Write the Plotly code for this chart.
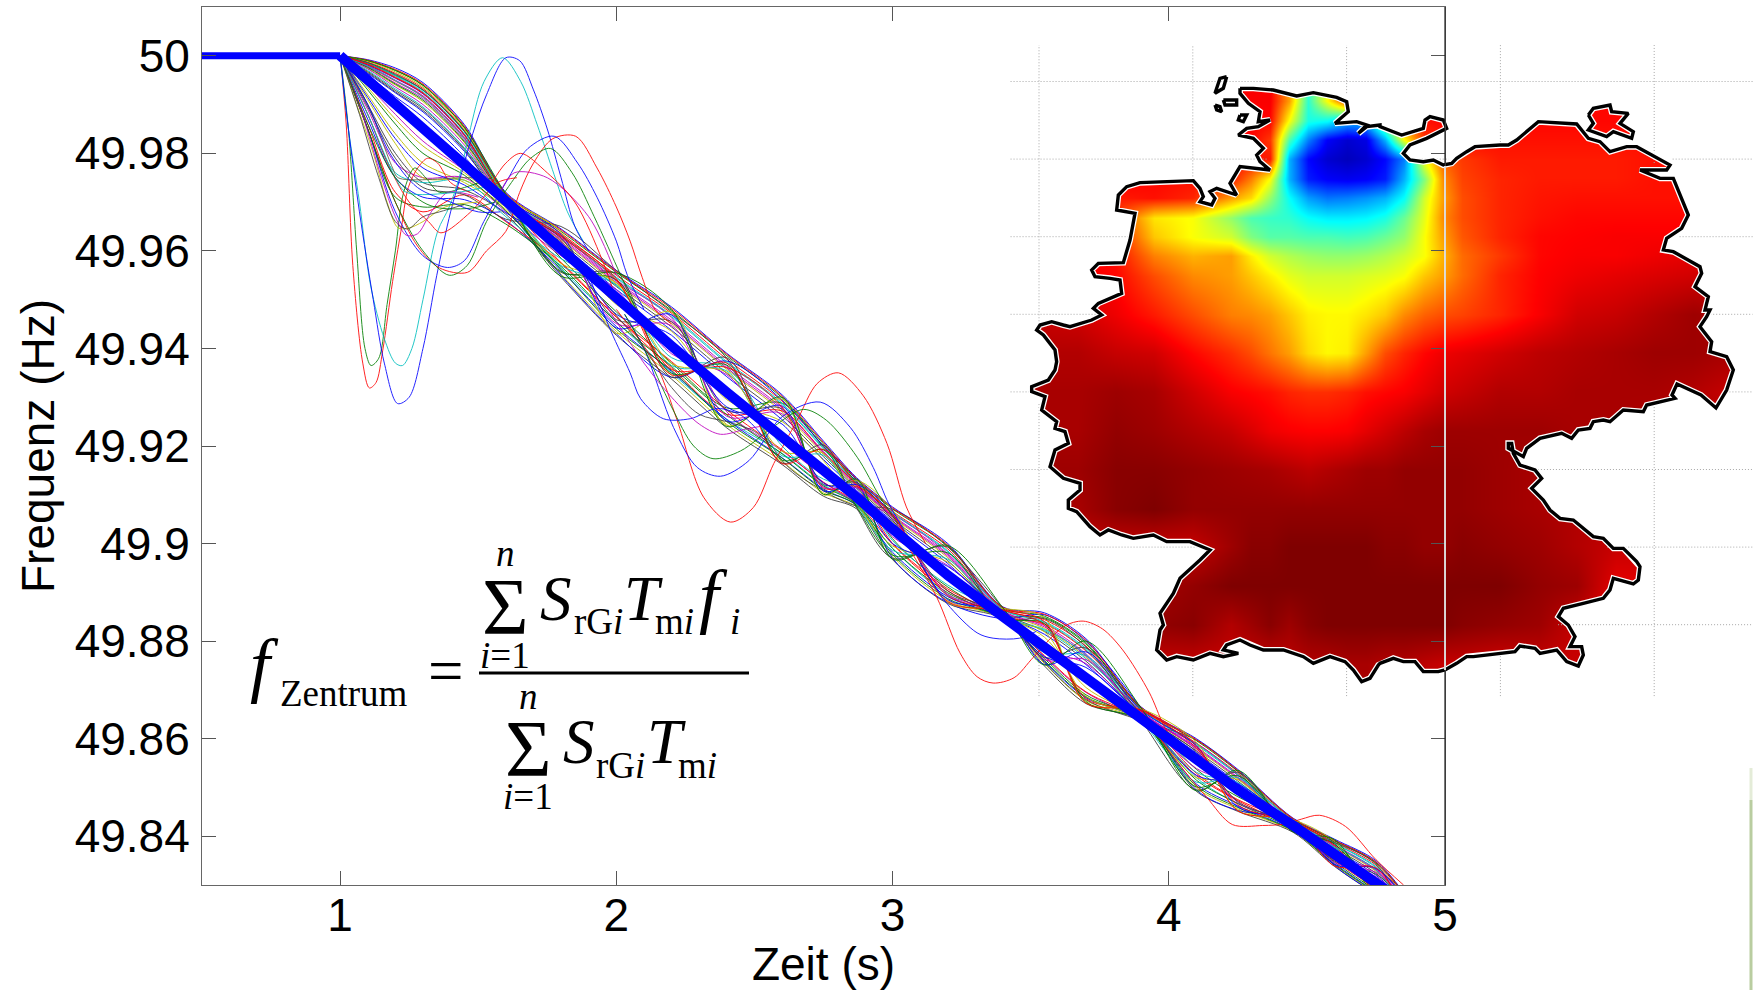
import plotly.graph_objects as go

W, H = 1760, 990
# ---------------- main chart data ----------------
X_TICKS = [1, 2, 3, 4, 5]
Y_TICKS = [50, 49.98, 49.96, 49.94, 49.92, 49.9, 49.88, 49.86, 49.84]
Y_LABELS = ["50", "49.98", "49.96", "49.94", "49.92", "49.9", "49.88", "49.86", "49.84"]
X_TITLE = "Zeit (s)"
Y_TITLE = "Frequenz (Hz)"

TIME = [1.0,1.1,1.2,1.3,1.45,1.6,1.8,2.0,2.2,2.4,2.6,2.75,2.87,3.0,3.2,3.4,3.55,3.7,3.9,4.1,4.25,4.45,4.6,4.75,4.85]
CENTER = [50,49.995,49.99,49.985,49.9775,49.97,49.96,49.95,49.9405,49.931,49.922,49.915,49.9095,49.903,49.8935,49.885,49.8788,49.872,49.8642,49.8555,49.8495,49.8422,49.8362,49.8305,49.8265]
FLAT_T = [0.5, 1.0]
FLAT_F = [50, 50]

# generator curves read as deviation from the centre line, in mHz
B01=[0,4.2,7.5,9.5,8.4,2,4.5,6,8,8,8.5,6,4,4.5,6.5,2,7,8.5,2.3,4.5,4.2,1.5,3.2,4.5,2]
B02=[0,4,7,9,7.8,1.7,4,5.6,7.3,7.5,7.9,5.4,3.6,4.1,6,1.8,6.3,7.7,2.1,4.1,3.8,1.3,2.9,4,1.7]
B03=[0,3.7,6.4,8.3,7.2,1.4,3.6,5,6.7,6.8,7.2,5,3.2,3.6,5.4,1.6,5.6,7,1.9,3.6,3.4,1.1,2.6,3.6,1.5]
B04=[0,3.4,5.8,7.6,6.5,1.1,3.1,4.4,6,6,6.5,4.4,2.8,3.2,4.8,1.4,5,6.2,1.7,3.2,3,.9,2.3,3.1,1.3]
B05=[0,3,5,6.8,5.8,.7,2.7,3.8,5.3,5.4,5.8,3.9,2.5,2.8,4.2,1.2,4.4,5.4,1.4,2.8,2.6,.7,2,2.7,1.1]
B06=[0,2.4,4,5.6,4.7,.2,2.2,3.2,4.6,4.7,5,3.3,2.1,2.4,3.6,1,3.8,4.7,1.2,2.4,2.2,.5,1.7,2.3,.9]
B07=[0,1.8,2.9,4.2,3.5,0,1.8,2.7,3.9,3.9,4.2,2.8,1.8,2,3,.8,3.2,3.9,1,2,1.8,.3,1.4,1.9,.7]
B08=[0,1.4,2.4,3.5,2.9,-.3,1.4,2.1,3.2,3.2,3.4,2.2,1.4,1.6,2.4,.6,2.6,3.2,.8,1.6,1.4,.1,1.1,1.5,.5]
B09=[0,3.5,6,8,7,1.1,-1.5,-2.5,-3.5,-3.2,6.8,4.8,3,-2,-2.4,.2,6,7.4,1.8,-1.8,-1.4,1,2.6,-.8,-.5]
B10=[0,2.8,4.8,6.6,5.6,.6,-2.5,-3.5,-4.5,-4.5,5.2,3.6,2.4,-3,-3.2,0,4.7,6,1.5,-2.6,-2,.7,2.2,-1.2,-.8]
B11=[0,2,3.2,4.5,3.6,.1,-3.5,-4.5,-5.5,-5.5,-3.5,-3,-1.2,-4,-4,-.2,3.4,4.4,1.1,-3.5,-2.8,.4,1.6,-1.6,-1]
B12=[0,-1,-2,-2.5,-1,-.5,3,4,5.8,-4,-3,-2.4,-1,3,4.4,1,-2,-2.5,-.2,3.5,3,-.4,-1,2.8,1.2]
B13=[0,-3,-6,-7,-3.5,-1.5,-4.8,-6.5,-6,-6.6,-5.2,-4.6,-2,-5.6,-5.2,-.4,-3.4,-4.2,-.5,-5.6,-3.9,-1.2,-2.1,-2.2,-1.5]
B14=[0,-5,-10,-11,-5,-2.5,-5.4,-7.3,-6.8,-7.3,-5.8,-5.3,-2.4,-6.3,-5.8,-.5,-3.9,-4.8,-.6,-6.3,-4.4,-1.4,-2.4,-2.4,-1.9]
B15=[0,-8,-15,-14,-7,-3.8,-4,-5.5,-5.2,-5.6,-4.4,-3.8,-1.7,-4.8,-4.4,-.3,-3,-3.6,-.4,-4.8,-3.3,-1,-1.8,-1.9,-1.3]
B16=[0,-10,-19,-16,-8,-4.5,-3.2,-4.6,-4.2,-4.6,-3.6,-3.2,-1.4,-4,-3.6,-.2,-2.4,-3,-.3,-4,-2.8,-.8,-1.5,-1.6,-1.1]
B17=[0,-9,-18,-17,-6,-4,-2.4,-3.6,-3.2,-3.6,-2.8,-2.5,-1,-3.1,-2.8,-.1,-1.8,-2.4,-.2,-3.1,-2.2,-.6,-1.2,-1.2,-.8]
B18=[0,-7,-14,-11,-3,-3,-1.6,3,-2.4,5,-2,-1.8,2,-2.4,-2,.6,-1.2,5,.6,-2.4,1.5,-.4,-.9,-.9,-.6]
B19=[0,-6,-12,-10,-2.5,-2,-1,2,-1.6,3.6,-1.2,-1,1.2,-1.6,2,.4,-.6,3.4,.4,-1.6,1,-.2,-.6,1.2,.4]
B20=[0,-4,-8,-10,-3,-1,2,-1,3,-1.5,3,2,-1.5,1.5,-1,.3,2,-1.5,.2,1.3,-1,.2,1,-.4,.2]
B21=[0,-5.5,-11,-12,-6,-3.5,5,6,7,7,-5,-4.2,-1.8,4,5.8,1.7,-3.2,-4,-.5,4.2,3.8,-1.1,2.8,4.2,1.9]
B22=[0,1,1.6,2.4,1.8,-1,-5,-7,-6.4,6.4,7.4,5,3.4,-6,-5.6,-.4,6.6,8,2,-6,-4.2,1.2,-2.2,-2.3,-1.6]
B23=[0,-2,-4,-5,-2,-1.8,-3.8,-6,-5,-6,-4.5,-4,-1.6,-5.2,-4.8,-.3,-2.8,-3.4,-.4,-5.2,-3.6,-1.1,-2,-2,-1.4]
B24=[0,4.1,7.2,9.2,8.1,1.8,4.3,5.8,7.7,7.8,8.2,5.7,3.8,4.3,6.2,1.9,6.7,8.2,2.2,4.3,4,1.4,3,4.2,1.8]
B25=[0,3.5,6,7.9,6.9,1.2,3.3,4.6,6.3,6.3,6.8,4.6,3,3.4,5,1.5,5.2,6.5,1.8,3.4,3.2,1,2.4,3.3,1.4]
B26=[0,2.7,4.4,6.2,5.2,.4,2.4,3.5,4.9,5,5.4,3.6,2.3,2.6,3.9,1.1,4.1,5,1.3,2.6,2.4,.6,1.8,2.5,1]
B27=[0,3.9,6.7,8.6,7.5,1.5,3.8,-6.9,7,-6.8,7.6,-5,3.4,3.9,-5.6,1.7,6,-4.6,1.9,3.8,-4.2,1.2,2.7,-2.3,1.6]
B28=[0,3.6,6.2,8,7,1.3,-4.4,5.3,-6.4,7.1,-5.5,5.2,-2.2,-6,5.8,-.4,5.8,6.8,-.5,-6,3.6,-1.3,2.5,3.8,-1.7]
B29=[0,3.1,5.4,7.2,6.2,.9,3.4,-5.8,6.4,-5.9,6.2,-4.2,2.6,3,-5,1.3,-3.6,5.8,1.6,3,-3.5,.8,-2,2.9,1.2]
B30=[0,2.6,4.2,5.9,4.9,.3,-4.2,4.1,-5.6,5.6,-4.9,4.2,-1.9,-5.4,4.6,-.3,4.8,-4.4,-.4,-5.4,2.9,-1,2.2,-2.1,-1.4]
B31=[0,3.3,5.6,7.4,6.3,.8,2.9,4,-4.8,5.1,6,-3.6,2.2,2.6,-4.2,1.3,4.5,-3.8,1.5,2.6,-3.1,.7,1.9,-1.8,1]
B32=[0,2.9,4.9,6.5,5.5,.4,-3,3,-4,4.4,-4,3.1,-1.5,-4.4,3.3,-.2,3.6,5.2,-.3,-4.4,2.5,-.9,1.6,2.6,-1.2]
B33=[0,2.3,3.6,5,4.2,.2,2,-4.9,4.2,-4.9,4.6,-3.4,1.9,2.2,-3.9,.9,-2.6,4.2,1.1,2.2,-2.6,.5,-1.6,2.1,.8]
B34=[0,-1.5,-3,-3.5,-1.5,-1,-2.6,3.5,-3.6,4.1,-3.1,3.5,-1.2,-3.5,2.7,-.2,3.1,-3.3,-.2,-3.5,2.1,-.7,1.3,-1.4,-.9]
B35=[0,1.6,2.6,3.8,3.2,-.5,2.6,-4.1,5,-3.7,5.6,-2.9,3,1.8,-3.2,.7,-2.2,6.6,.9,1.8,-2.4,.2,-1.3,1.7,.6]
B36=[0,-3.5,-7,-8,-4,-2.2,1,-3,2.2,-3,2.5,-2.6,1,-3,1.8,.5,-2,2.6,.5,-3,1.2,.2,-1,.9,-.6]
B37=[0,4,7,8.9,7.8,1.6,-5.2,5.5,7.5,-7,8,-4.9,3.7,-6.2,6.1,1.8,-3.7,8,2.1,-6.2,4,-1.3,3.1,-2.4,1.8]
B38=[0,3.2,5.5,7.3,6.3,.8,3.2,4.3,-5.9,6,-5.6,4.3,2.7,3,-5.4,1.4,5.2,-4.7,1.7,3.1,-4.3,1,-2.3,3,-1.6]
BUNDLE = [B01,B02,B03,B04,B05,B06,B07,B08,B09,B10,B11,B12,B13,B14,B15,B16,B17,B18,B19,B20,B21,B22,B23,B24,B25,B26,
          B27,B28,B29,B30,B31,B32,B33,B34,B35,B36,B37,B38]

# individually visible curves: colour, times, frequencies
RED1_T=[1,1.022,1.046,1.082,1.106,1.13,1.154,1.19,1.22,1.247,1.281,1.317,1.353,1.40,1.47]
RED1_F=[50,49.986,49.957,49.937,49.9319,49.933,49.9395,49.9537,49.964,49.973,49.977,49.979,49.978,49.974,49.972]
GRN1_T=[1,1.03,1.06,1.09,1.112,1.14,1.17,1.20,1.23,1.27,1.31,1.36,1.45,1.55]
GRN1_F=[50,49.985,49.96,49.94,49.9365,49.938,49.949,49.960,49.972,49.977,49.975,49.972,49.973,49.975]
CYN1_T=[1,1.03,1.07,1.11,1.16,1.2,1.226,1.26,1.3,1.353,1.395,1.431,1.467,1.521,1.588,1.654,1.714,1.775,1.823,1.88]
CYN1_F=[50,49.985,49.97,49.953,49.942,49.937,49.9365,49.94,49.95,49.964,49.969,49.975,49.984,49.9947,49.9996,49.9947,49.9858,49.9756,49.968,49.962]
BLU1_T=[1,1.03,1.07,1.12,1.16,1.208,1.25,1.3,1.35,1.4,1.44,1.48,1.53,1.6,1.65,1.7,1.75,1.8,1.85,1.9]
BLU1_F=[50,49.985,49.968,49.95,49.937,49.9287,49.93,49.94,49.955,49.968,49.976,49.984,49.992,49.9996,49.999,49.993,49.985,49.975,49.965,49.96]
RED2_T=[1,1.1,1.2,1.28,1.36,1.461,1.53,1.6,1.65,1.7,1.77,1.853,1.93,2,2.05,2.094,2.14,2.2]
RED2_F=[50,49.985,49.97,49.961,49.9565,49.9556,49.96,49.964,49.972,49.978,49.983,49.9835,49.977,49.969,49.962,49.9545,49.948,49.945]
BLU2_T=[1,1.1,1.2,1.3,1.389,1.45,1.52,1.6,1.68,1.775,1.86,1.93,2,2.04,2.1]
BLU2_F=[50,49.985,49.968,49.959,49.9566,49.958,49.966,49.974,49.981,49.9835,49.978,49.971,49.962,49.955,49.948]
GRN2_T=[1,1.1,1.2,1.3,1.395,1.46,1.53,1.62,1.69,1.762,1.84,1.92,2.016,2.08]
GRN2_F=[50,49.985,49.97,49.96,49.955,49.957,49.966,49.974,49.979,49.981,49.976,49.967,49.955,49.947]
OLV1_T=[1,1.06,1.12,1.17,1.21,1.25,1.3,1.38,1.5]
OLV1_F=[50,49.99,49.98,49.97,49.9647,49.9647,49.966,49.969,49.97]
GRY1_T=[1,1.07,1.14,1.2,1.245,1.3,1.36,1.45]
GRY1_F=[50,49.988,49.975,49.966,49.9645,49.967,49.968,49.9695]
MAG1_T=[1,1.08,1.15,1.2,1.24,1.28,1.33,1.39,1.5]
MAG1_F=[50,49.988,49.975,49.967,49.9632,49.9635,49.968,49.972,49.971]
RED3_T=[1,1.1,1.18,1.25,1.32,1.365,1.473,1.57,1.64]
RED3_F=[50,49.988,49.977,49.970,49.966,49.9637,49.968,49.974,49.975]
GRY2_T=[1,1.1,1.19,1.21,1.44,1.52]
GRY2_F=[50,49.99,49.977,49.975,49.975,49.975]
CYN2_T=[1,1.1,1.2,1.24,1.42,1.52]
CYN2_F=[50,49.988,49.975,49.972,49.972,49.973]
GRN3_T=[1,1.1,1.2,1.3,1.36,1.48,1.56]
GRN3_F=[50,49.986,49.975,49.97,49.9688,49.9688,49.97]
BLU3_T=[1,1.1,1.18,1.28,1.4,1.5,1.58]
BLU3_F=[50,49.99,49.98,49.973,49.97,49.968,49.968]
MAG2_T=[1.58,1.63,1.75,1.9,2]
MAG2_F=[49.972,49.976,49.975,49.967,49.955]
RED4_T=[1.55,1.6,1.654,1.75,1.85,1.95,2]
RED4_F=[49.974,49.978,49.98,49.976,49.97,49.958,49.95]
RED5_T=[2.0,2.08,2.15,2.22,2.316,2.413,2.496,2.57,2.655,2.727,2.804,2.894,2.98,3.05,3.12]
RED5_F=[49.948,49.942,49.936,49.9253,49.9095,49.9044,49.9074,49.9164,49.9253,49.9328,49.935,49.9303,49.9205,49.9075,49.9]
BLU4_T=[2.03,2.1,2.207,2.293,2.377,2.48,2.6,2.738,2.847,2.93,2.985,3.04]
BLU4_F=[49.947,49.94,49.9238,49.9156,49.9138,49.917,49.926,49.929,49.9238,49.9156,49.9083,49.903]
GRN4_T=[2.03,2.1,2.2,2.28,2.35,2.45,2.57,2.677,2.76,2.872,2.955,3.02]
GRN4_F=[49.947,49.94,49.928,49.92,49.9174,49.919,49.924,49.9275,49.9253,49.9177,49.9095,49.904]
BLU5_T=[1.9,1.98,2.05,2.088,2.17,2.268,2.366,2.46,2.53]
BLU5_F=[49.955,49.9436,49.935,49.9297,49.9256,49.9256,49.9277,49.926,49.922]
MAG3_T=[1.95,2.1,2.2,2.3,2.377,2.47,2.52]
MAG3_F=[49.95,49.937,49.93,49.9245,49.9224,49.9235,49.924]
GRY3_T=[1.95,2.1,2.2,2.3,2.4,2.5,2.56]
GRY3_F=[49.95,49.94,49.932,49.9265,49.925,49.923,49.92]
RED6_T=[3.05,3.16,3.244,3.306,3.364,3.44,3.51,3.62,3.69,3.76,3.833,3.93,3.98,4.02]
RED6_F=[49.9,49.889,49.8776,49.8727,49.8714,49.8725,49.8767,49.883,49.8841,49.8825,49.8782,49.8694,49.8629,49.859]
BLU6_T=[3.1,3.197,3.306,3.364,3.46,3.52]
BLU6_F=[49.896,49.8877,49.8817,49.8806,49.8806,49.882]
RED7_T=[3.92,4.02,4.137,4.23,4.34,4.42,4.48,4.545,4.64,4.75,4.85]
RED7_F=[49.864,49.856,49.848,49.8424,49.8422,49.8425,49.8435,49.8443,49.842,49.8352,49.83]
OUTLIERS = [("#ff0000",RED1_T,RED1_F),("#007f00",GRN1_T,GRN1_F),("#00bfbf",CYN1_T,CYN1_F),("#0000ff",BLU1_T,BLU1_F),
            ("#ff0000",RED2_T,RED2_F),("#0000ff",BLU2_T,BLU2_F),("#007f00",GRN2_T,GRN2_F),("#bfbf00",OLV1_T,OLV1_F),
            ("#404040",GRY1_T,GRY1_F),("#bf00bf",MAG1_T,MAG1_F),("#ff0000",RED3_T,RED3_F),("#606040",GRY2_T,GRY2_F),
            ("#00bfbf",CYN2_T,CYN2_F),("#007f00",GRN3_T,GRN3_F),("#0000ff",BLU3_T,BLU3_F),("#bf00bf",MAG2_T,MAG2_F),
            ("#ff0000",RED4_T,RED4_F),("#ff0000",RED5_T,RED5_F),("#0000ff",BLU4_T,BLU4_F),("#007f00",GRN4_T,GRN4_F),
            ("#0000ff",BLU5_T,BLU5_F),("#bf00bf",MAG3_T,MAG3_F),("#404040",GRY3_T,GRY3_F),("#ff0000",RED6_T,RED6_F),
            ("#0000ff",BLU6_T,BLU6_F),("#ff0000",RED7_T,RED7_F)]
CYCLE = ["#0000ff","#007f00","#ff0000","#00bfbf","#bf00bf","#bfbf00","#404040"]

# ---------------- map data ----------------
LON = [5.75,6.5,7,7.5,8,8.5,8.75,9,9.25,9.5,9.75,10,10.25,10.5,10.75,11,11.25,11.5,12,12.5,13,13.5,14,14.5,15,15.25]
LAT = [55,54.75,54.5,54.25,54,53.75,53.5,53.25,53,52.75,52.5,52,51.5,51,50.5,50,49.5,49,48.5,48,47.5,47]
Z = [
[.9,.9,.9,.9,.88,.88,.88,.88,.72,.42,.62,.82,.87,.87,.87,.87,.87,.87,.87,.87,.87,.87,.87,.87,.87,.87],
[.9,.9,.9,.9,.88,.88,.88,.88,.72,.42,.62,.82,.87,.87,.87,.87,.87,.87,.87,.87,.87,.87,.87,.87,.87,.87],
[.9,.9,.9,.9,.88,.88,.875,.87,.62,.40,.38,.3,.32,.55,.8,.86,.87,.87,.87,.87,.87,.87,.87,.87,.87,.87],
[.9,.9,.9,.88,.88,.875,.875,.82,.45,.25,.12,.08,.1,.3,.62,.82,.86,.87,.86,.86,.86,.86,.86,.86,.86,.86],
[.9,.9,.88,.88,.88,.87,.86,.85,.3,.13,.08,.06,.08,.13,.25,.62,.78,.82,.85,.85,.85,.85,.86,.86,.86,.86],
[.9,.9,.88,.87,.86,.85,.75,.62,.3,.15,.12,.11,.12,.15,.3,.5,.74,.81,.84,.85,.85,.85,.86,.86,.86,.86],
[.88,.88,.85,.86,.84,.72,.66,.52,.38,.28,.24,.25,.27,.3,.38,.58,.72,.8,.84,.855,.86,.86,.86,.86,.86,.86],
[.85,.85,.82,.65,.62,.52,.45,.43,.42,.38,.36,.36,.37,.4,.48,.6,.74,.8,.84,.86,.87,.87,.87,.87,.87,.87],
[.87,.87,.85,.68,.62,.58,.5,.46,.46,.45,.45,.44,.45,.48,.52,.62,.72,.79,.84,.87,.875,.88,.88,.88,.88,.88],
[.88,.88,.86,.75,.7,.72,.64,.58,.55,.53,.52,.52,.53,.55,.58,.62,.7,.77,.82,.87,.88,.88,.89,.9,.9,.9],
[.89,.89,.87,.8,.74,.72,.68,.64,.6,.58,.58,.58,.59,.6,.62,.68,.72,.77,.84,.875,.89,.9,.91,.92,.92,.92],
[.93,.92,.89,.85,.8,.75,.74,.72,.68,.64,.63,.63,.65,.68,.74,.78,.8,.81,.84,.88,.92,.93,.95,.97,.96,.96],
[.95,.95,.93,.92,.87,.83,.8,.76,.72,.66,.63,.64,.72,.8,.84,.87,.89,.9,.92,.94,.95,.96,.97,.97,.96,.96],
[.96,.96,.97,.96,.92,.88,.87,.86,.84,.83,.83,.84,.86,.87,.88,.9,.92,.93,.95,.95,.96,.96,.96,.95,.93,.93],
[.96,.96,.98,.97,.95,.93,.91,.89,.88,.875,.875,.88,.9,.92,.94,.96,.97,.97,.97,.97,.96,.96,.95,.95,.95,.95],
[.97,.97,.99,.99,.98,.97,.965,.96,.95,.94,.95,.96,.97,.97,.98,.98,.98,.98,.97,.96,.95,.95,.95,.95,.95,.95],
[.96,.96,.99,1,.98,.98,.98,.98,.98,.98,.98,.98,.98,.98,.98,.98,.98,.98,.97,.96,.95,.95,.95,.95,.95,.95],
[.93,.93,.93,.93,.93,.97,.99,.99,1,1,1,1,1,.99,.99,.98,.98,.99,.98,.97,.95,.93,.93,.93,.93,.93],
[.96,.96,.96,.96,.98,1,1,1,1,1,1,1,1,1,1,1,1,1,1,.98,.97,.9,.9,.9,.9,.9],
[.97,.97,.97,.98,.99,.95,.97,.99,.97,.99,1,1,1,1,1,1,1,.99,.98,.97,.93,.9,.9,.9,.9,.9],
[.93,.93,.93,.93,.93,.93,.93,.93,.94,.95,.95,.96,.96,.95,.95,.94,.93,.93,.92,.93,.93,.93,.93,.93,.93,.93],
[.93,.93,.93,.93,.93,.93,.93,.93,.94,.95,.95,.96,.96,.95,.95,.94,.93,.93,.92,.93,.93,.93,.93,.93,.93,.93],
]
JET = [[0,"#00007f"],[.125,"#0000ff"],[.375,"#00ffff"],[.625,"#ffff00"],[.875,"#ff0000"],[1,"#7f0000"]]

# border in crops; each crop has its own origin (3x scale)
NW_ORIGIN, NW = (1020, 70), [(660,55),(700,55),(760,60),(805,72),(830,78),(880,68),(950,82),(980,95),(985,125),(945,160),(1010,155),(1040,165),(1015,190),(1040,170),(1080,165)]
NE_ORIGIN, NE = (1380, 90), [(0,110),(65,135),(130,115),(135,90),(150,80),(190,90),(200,115),(140,145),(90,165),(70,190),(90,210),(130,215),(160,210),(190,225),(215,220),(230,205),(260,185),(285,170),(360,165),(385,165),(410,150),(475,95),(590,102),(625,145),(660,155),(690,185),(740,170),(770,170),(870,225),(860,240),(780,240),(840,265),(880,265),(925,375),(905,415),(860,445),(850,480),(880,485),(960,530),(965,550),(945,590),(985,620),(975,660),(990,660),(980,680),(960,710),(995,755),(990,785),(1040,800),(1060,840),(1040,900)]
EAST_ORIGIN, EAST = (1380, 90), [(1008,954),(963,915),(891,882),(876,915)]
SE_ORIGIN, SE = (1380, 380), [(885,55),(800,75),(790,95),(730,90),(690,125),(670,120),(640,125),(630,145),(595,150),(575,175),(545,160),(480,175),(440,205),(430,230),(385,205),(385,190),(395,190),(400,220),(420,255),(465,270),(485,295),(455,325),(490,360),(510,390),(540,415),(580,420),(640,470),(670,475),(700,505),(730,505),(770,545),(780,560),(775,600),(760,612),(700,595),(690,630),(670,655),(610,670),(550,685),(535,710),(565,735),(585,770),(570,800),(605,800),(610,825),(595,858),(560,845),(530,810),(480,820),(465,805),(420,798),(405,815),(330,825),(280,830),(260,830),(230,850),(195,870),(175,875),(160,875),(130,875),(105,845),(70,845),(40,835),(0,850)]
SW_ORIGIN, SW = (1020, 360), [(1075,915),(1050,955),(1025,965),(1000,930),(975,905),(930,890),(880,910),(850,890),(790,870),(730,870),(690,855),(660,840),(620,855),(610,870),(655,880),(610,890),(570,880),(520,900),(470,890),(440,900),(410,870),(420,810),(430,795),(420,760),(460,700),(480,655),(540,600),(570,570),(510,545),(440,545),(400,525),(340,535),(305,525),(265,510),(240,525),(210,500),(170,455),(145,445),(145,420),(180,390),(180,370),(130,355),(90,320),(105,270),(145,250),(135,215),(105,205),(110,185),(65,150),(75,110),(35,95),(35,80),(85,60),(105,30),(110,5)]
WEST_ORIGIN, WEST = (1020, 70), [(110,875),(105,840),(70,795),(50,780),(60,765),(95,755),(130,765),(150,770),(215,750),(245,735),(220,715),(235,700),(305,670),(300,630),(270,625),(225,620),(215,600),(235,580),(310,578),(330,510),(345,430),(290,420),(295,375),(320,350),(360,338),(520,332),(540,355),(550,380),(540,395),(575,405),(585,385),(570,365),(590,355),(650,375),(630,340),(660,290),(750,300),(720,275),(710,255),(730,235),(700,205),(655,195),(680,175),(715,170),(750,150),(715,155),(720,125),(685,100),(660,70),(660,55)]
RUEGEN_ORIGIN, RUEGEN = (1380, 90), [(625,75),(640,55),(690,45),(695,65),(745,70),(720,100),(760,125),(755,145),(700,125),(680,140),(625,120),(640,100),(625,75)]
ISLES_ORIGIN = (1020, 70)
ISLES = [[(620,20),(600,25),(585,70),(610,55),(620,20)],[(610,90),(650,90),(650,105),(615,105),(610,90)],
         [(585,105),(600,110),(605,125),(590,120),(585,105)],[(660,135),(680,135),(670,155),(655,150),(660,135)]]

GRID_LAT = [(55,[(5.63,15.28)]),(54,[(5.63,8.98),(10.86,11.33),(14.24,15.28)]),(53,[(5.63,7.2),(14.33,15.28)]),
            (52,[(5.63,6.75),(14.65,15.28)]),(51,[(5.63,5.9),(14.9,15.28)]),(50,[(5.63,6.15),(12.41,15.28)]),
            (49,[(5.63,8.2),(13.39,15.28)]),(48,[(5.63,7.58),(12.75,15.28)])]
GRID_LON = [(6,[(51.91,55.47),(47.08,50.85)]),(8,[(53.7,55.47),(47.08,47.54)]),(10,[(54.85,55.47),(47.08,47.51)]),
            (12,[(54.18,55.47),(47.08,47.6)]),(14,[(53.95,55.47),(47.08,50.85)])]

# ---------------- geometry of the picture ----------------
PLOT = dict(l=202, r=1445, t=7, b=885)
def lonlat(origin, pts):
    lon = [6 + (origin[0] + x / 3 - 1039) / 76.9 for x, y in pts]
    lat = [55 - (origin[1] + y / 3 - 81.5) / 77.6 for x, y in pts]
    return lon, lat
def join(*parts):
    lon, lat = [], []
    for origin, pts in parts:
        a, b = lonlat(origin, pts)
        lon += a; lat += b
    return lon, lat
BX, BY = join((NW_ORIGIN, NW), (NE_ORIGIN, NE), (EAST_ORIGIN, EAST), (SE_ORIGIN, SE), (SW_ORIGIN, SW), (WEST_ORIGIN, WEST))
RX, RY = lonlat(RUEGEN_ORIGIN, RUEGEN)
MX0, MX1 = 6 - 1039 / 76.9, 6 + 721 / 76.9
MY1, MY0 = 55 + 81.5 / 77.6, 55 - 908.5 / 77.6

fig = go.Figure()
# --- map subplot (drawn first, so below the chart)
fig.add_trace(go.Heatmap(x=LON, y=LAT[::-1], z=Z[::-1], colorscale=JET, zmin=0, zmax=1, zsmooth="best",
                         showscale=False, hoverinfo="skip", xaxis="x", yaxis="y"))
mx = [5.2, 5.2, 15.8, 15.8, 5.2, None] + BX + [None] + RX
my = [55.6, 46, 46, 55.6, 55.6, None] + BY + [None] + RY
fig.add_trace(go.Scatter(x=mx, y=my, mode="lines", fill="toself", fillcolor="white", line=dict(width=0),
                         hoverinfo="skip", xaxis="x", yaxis="y"))
gx, gy = [], []
for lat, segs in GRID_LAT:
    for a, b in segs:
        gx += [a, b, None]; gy += [lat, lat, None]
for lon, segs in GRID_LON:
    for a, b in segs:
        gx += [lon, lon, None]; gy += [a, b, None]
fig.add_trace(go.Scatter(x=gx, y=gy, mode="lines", line=dict(color="#a8a8a8", width=1, dash="1px,2px"),
                         hoverinfo="skip", xaxis="x", yaxis="y"))
for a, b in ((BX, BY), (RX, RY)):
    fig.add_trace(go.Scatter(x=a, y=b, mode="lines", line=dict(color="white", width=6), hoverinfo="skip", xaxis="x", yaxis="y"))
outlines = [(BX, BY), (RX, RY)] + [lonlat(ISLES_ORIGIN, p) for p in ISLES]
for a, b in outlines:
    fig.add_trace(go.Scatter(x=a, y=b, mode="lines", line=dict(color="black", width=3.4), hoverinfo="skip", xaxis="x", yaxis="y"))

# --- chart subplot
for i, dev in enumerate(BUNDLE):
    fig.add_trace(go.Scatter(x=TIME, y=[c + d / 1000 for c, d in zip(CENTER, dev)], mode="lines",
                             line=dict(color=CYCLE[i % 7], width=1, shape="spline", smoothing=0.9),
                             opacity=0.9, hoverinfo="skip", xaxis="x2", yaxis="y2"))
for col, t, f in OUTLIERS:
    fig.add_trace(go.Scatter(x=t, y=f, mode="lines", line=dict(color=col, width=1, shape="spline", smoothing=0.9),
                             opacity=0.85, hoverinfo="skip", xaxis="x2", yaxis="y2"))
fig.add_trace(go.Scatter(x=FLAT_T, y=FLAT_F, mode="lines", line=dict(color="#0000ff", width=7),
                         hoverinfo="skip", xaxis="x2", yaxis="y2"))
fig.add_trace(go.Scatter(x=TIME, y=CENTER, mode="lines", line=dict(color="#0000ff", width=10),
                         hoverinfo="skip", xaxis="x2", yaxis="y2"))

def px_x(v): return v / W
def px_y(v): return 1 - v / H
TXT = "Liberation Serif"
def place(text, x, base, size, anchor="left"):
    fig.add_annotation(xref="paper", yref="paper", x=px_x(x), y=px_y(base + 0.27 * size), text=text, showarrow=False,
                       xanchor=anchor, yanchor="bottom", borderpad=0, font=dict(family=TXT, size=size, color="black"))

BIG, SUB, FSIZE = 63, 37, 72
place("<i>f</i>", 249, 687, FSIZE)
place("Zentrum", 279, 705, SUB)
place("=", 446, 690, BIG, "center")
place("\u03a3", 505, 630, 80, "center")
place("<i>n</i>", 505, 565, SUB, "center")
place("<i>i</i>=1", 505, 667, SUB, "center")
place("<i>S</i>", 539, 618, BIG)
place("rG<i>i</i>", 573, 633, SUB)
place("<i>T</i>", 623, 618, BIG)
place("m<i>i</i>", 654, 633, SUB)
place("<i>f</i>", 698, 618, FSIZE)
place("<i>i</i>", 729, 633, SUB)
place("\u03a3", 528, 772, 80, "center")
place("<i>n</i>", 528, 708, SUB, "center")
place("<i>i</i>=1", 528, 808, SUB, "center")
place("<i>S</i>", 562, 761, BIG)
place("rG<i>i</i>", 595, 777, SUB)
place("<i>T</i>", 646, 761, BIG)
place("m<i>i</i>", 677, 777, SUB)

def paper_line(x0, y0, x1, y1, color, width):
    fig.add_shape(type="line", xref="paper", yref="paper", x0=px_x(x0), y0=px_y(y0), x1=px_x(x1), y1=px_y(y1),
                  line=dict(color=color, width=width))
paper_line(479, 673, 749, 673, "black", 3)
paper_line(1445, 7, 1445, 885, "#202020", 1.2)
paper_line(1445, 166, 1445, 670, "white", 1.6)
paper_line(1751, 800, 1751, 990, "#b9cda0", 3)
paper_line(1751, 768, 1751, 800, "#e4ecd8", 3)

axis_font = dict(family="Liberation Sans, Arial", size=46, color="black")
fig.update_layout(
    width=W, height=H, margin=dict(l=0, r=0, t=0, b=0, autoexpand=False), paper_bgcolor="white", plot_bgcolor="rgba(0,0,0,0)",
    showlegend=False,
    xaxis=dict(domain=[0, 1], range=[MX0, MX1], visible=False, fixedrange=True),
    yaxis=dict(domain=[0, 1], range=[MY0, MY1], visible=False, fixedrange=True),
    xaxis2=dict(domain=[PLOT["l"] / W, PLOT["r"] / W], range=[0.5, 5], anchor="y2", tickmode="array", tickvals=X_TICKS,
                ticktext=[str(v) for v in X_TICKS], ticks="inside", ticklen=14, tickcolor="#555", tickwidth=1,
                showline=True, linecolor="#666", linewidth=1, mirror="ticks", showgrid=False, zeroline=False,
                tickfont=axis_font, title=dict(text=X_TITLE, font=axis_font, standoff=3), ticklabelstandoff=-10),
    yaxis2=dict(domain=[1 - PLOT["b"] / H, 1 - PLOT["t"] / H], range=[49.83, 50.01], anchor="x2", tickmode="array",
                tickvals=Y_TICKS, ticktext=Y_LABELS, ticks="inside", ticklen=14, tickcolor="#555", tickwidth=1,
                showline=True, linecolor="#666", linewidth=1, mirror="ticks", showgrid=False, zeroline=False,
                tickfont=axis_font, title=dict(text=Y_TITLE, font=axis_font, standoff=5), ticklabelstandoff=2),
)
fig.write_html("out.html", config={"displayModeBar": False},
               post_script="document.body.style.margin='0';document.documentElement.style.overflow='hidden';")
